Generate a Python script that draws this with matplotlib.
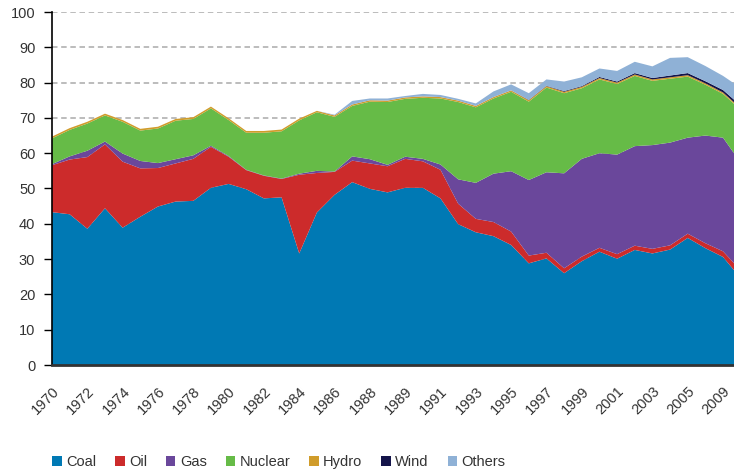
# IMPORT LIBRARIES

import numpy as np
import matplotlib
matplotlib.use("Agg")
import matplotlib.pyplot as plt

# DATA (SHARE OF ELECTRICITY GENERATION, %)

tick_labels = [
    "1970", "1972", "1974", "1976", "1978", "1980", "1982", "1984",
    "1986", "1988", "1989", "1991", "1993", "1995", "1997", "1999",
    "2001", "2003", "2005", "2009"
]

coal = [43.3, 42.7, 38.6, 44.4, 38.9, 42.0, 44.9, 46.3, 46.5, 50.2,
        51.3, 49.8, 47.2, 47.5, 31.6, 43.2, 48.2, 51.8, 49.9, 48.9,
        50.2, 50.2, 47.2, 39.9, 37.6, 36.5, 34.0, 28.8, 30.2, 26.0,
        29.4, 32.1, 30.1, 32.6, 31.6, 32.7, 36.0, 33.1, 30.6, 24.6]

oil = [13.3, 15.5, 20.3, 18.1, 18.7, 13.7, 10.9, 10.8, 11.9, 11.6,
       7.7, 5.4, 6.4, 5.2, 22.3, 11.2, 6.5, 6.1, 7.2, 7.4,
       8.2, 7.5, 8.1, 5.8, 3.8, 4.0, 3.8, 2.2, 1.6, 1.4,
       1.3, 1.1, 1.3, 1.2, 1.3, 1.2, 1.2, 1.4, 1.6, 2.2]

gas = [0.3, 0.9, 1.8, 0.8, 2.3, 2.1, 1.4, 1.2, 1.0, 0.3,
       0.2, 0.1, 0.1, 0.1, 0.3, 0.6, 0.1, 1.2, 1.2, 0.4,
       0.6, 0.7, 1.5, 6.9, 10.2, 13.7, 17.1, 21.4, 22.8, 26.9,
       27.7, 26.8, 28.2, 28.2, 29.4, 29.1, 27.2, 30.5, 32.2, 30.5]

nuclear = [7.3, 7.5, 7.7, 7.4, 9.0, 8.6, 9.8, 10.9, 10.3, 10.6,
           10.2, 10.5, 12.1, 13.4, 15.1, 16.6, 15.5, 14.3, 16.3, 17.8,
           16.4, 17.3, 18.7, 21.9, 21.4, 21.3, 22.5, 22.2, 24.0, 22.7,
           20.0, 20.9, 20.0, 19.9, 18.2, 18.1, 17.3, 14.4, 12.4, 15.0]

hydro = [0.5, 0.5, 0.5, 0.5, 0.5, 0.5, 0.5, 0.5, 0.5, 0.5,
         0.5, 0.5, 0.5, 0.5, 0.5, 0.4, 0.4, 0.4, 0.4, 0.4,
         0.4, 0.4, 0.4, 0.4, 0.4, 0.4, 0.4, 0.4, 0.4, 0.4,
         0.4, 0.4, 0.4, 0.4, 0.4, 0.4, 0.4, 0.4, 0.4, 0.4]

wind = [0, 0, 0, 0, 0, 0, 0, 0, 0, 0,
        0, 0, 0, 0, 0, 0, 0, 0, 0, 0,
        0, 0, 0, 0, 0, 0, 0, 0.1, 0.1, 0.2,
        0.2, 0.3, 0.3, 0.4, 0.4, 0.5, 0.6, 0.6, 0.7, 0.8]

others = [0, 0, 0, 0, 0, 0, 0, 0, 0, 0,
          0, 0, 0, 0, 0, 0, 0.2, 1.0, 0.5, 0.6,
          0.4, 0.7, 0.6, 0.5, 0.7, 1.6, 1.7, 1.9, 1.8, 2.7,
          2.5, 2.4, 3.0, 3.2, 3.3, 5.0, 4.5, 4.3, 4.0, 5.0]

names = ["Coal", "Oil", "Gas", "Nuclear", "Hydro", "Wind", "Others"]
colors = ["#0079b4", "#cc2b2b", "#6a479b", "#66bb47",
          "#d09c2b", "#14144a", "#8fb1d6"]

# FONT

plt.rcParams["font.family"] = ["Liberation Sans", "DejaVu Sans"]
text_color = "#333333"

# FIGURE

fig = plt.figure(figsize=(7.34, 4.73), dpi=100)
ax = fig.add_axes([52 / 734, 108 / 473, 688.7 / 734, 353 / 473])

x = np.arange(len(coal))

ax.stackplot(
    x,
    coal, oil, gas, nuclear, hydro, wind, others,
    colors=colors,
    labels=names,
    linewidth=0
)

# AXES

ax.set_xlim(0, len(coal) - 1)
ax.set_ylim(0, 100)

ax.set_yticks(np.arange(0, 101, 10))
ax.set_xticks(np.arange(0, 2 * len(tick_labels), 2))
ax.set_xticklabels(
    tick_labels,
    rotation=45,
    ha="right",
    va="top",
    rotation_mode="anchor"
)

ax.tick_params(axis="y", length=6, width=1, pad=6,
               labelsize=10.5, labelcolor=text_color)
ax.tick_params(axis="x", length=0, pad=14,
               labelsize=10.5, labelcolor=text_color)

ax.grid(axis="y", color="#aaaaaa", linestyle=(0, (3.6, 2.4)), linewidth=1.1)
ax.set_axisbelow(True)

ax.spines["top"].set_visible(False)
ax.spines["right"].set_visible(False)
ax.spines["left"].set_color("black")
ax.spines["left"].set_linewidth(1.2)
ax.spines["bottom"].set_color("#333333")
ax.spines["bottom"].set_linewidth(2)

# LEGEND

ax.legend(
    loc="center left",
    bbox_to_anchor=(39 / 734, 11 / 473),
    bbox_transform=fig.transFigure,
    ncol=7,
    frameon=False,
    fontsize=10.5,
    handlelength=0.65,
    handleheight=0.65,
    handletextpad=0.3,
    columnspacing=1.3,
    labelcolor=text_color
)

fig.savefig("out.png", dpi=100)
